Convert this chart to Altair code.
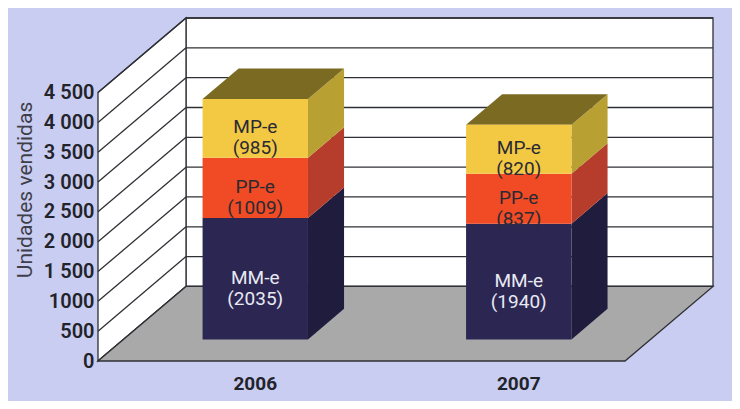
import altair as alt
import pandas as pd

# ---------------- data ----------------
years = ["2006", "2007"]
series = ["MM-e", "PP-e", "MP-e"]
mm_values = [2035, 1940]
pp_values = [1009, 837]
mp_values = [985, 820]
ytick_values = [0, 500, 1000, 1500, 2000, 2500, 3000, 3500, 4000, 4500]
ytick_labels = ["0", "500", "1000", "1 500", "2 000", "2 500", "3 000", "3 500", "4 000", "4 500"]
y_title = "Unidades vendidas"

# ---------------- styles / geometry ----------------
FRONT_COL = {"MM-e": "#2b2752", "PP-e": "#f04b24", "MP-e": "#f3c843"}
SIDE_COL = {"MM-e": "#1f1c3d", "PP-e": "#b63c2b", "MP-e": "#b9a032"}
TOP_COL = "#7b6a22"
LABEL_COL = {"MM-e": "#e9e9f4", "PP-e": "#2a2a35", "MP-e": "#2a2a35"}
BG = "#c9cdf1"
LINE = "#2f3035"
FLOOR = "#a9a9aa"
FONT = "Liberation Sans Narrow, Roboto, Liberation Sans, sans-serif"

W = 527.0          # front width of floor (x units)
DX = 88.0          # x shift for full depth
YMAX = max(ytick_values)
DY = 1250.0        # value shift for full depth
D0, D1 = 0.29, 0.70  # bar front / back depth
slot = W / len(years)
bar_w = 0.4 * slot

XDOM = [0, W + DX]
YDOM = [0, YMAX + DY]

xs = alt.Scale(domain=XDOM, nice=False, zero=False)
ys = alt.Scale(domain=YDOM, nice=False, zero=False)

label_expr = " : ".join(f"datum.value == {v} ? '{l}'" for v, l in zip(ytick_values, ytick_labels)) + " : ''"
yaxis = alt.Axis(
    values=ytick_values, labelExpr=label_expr, domain=False, ticks=False, grid=False,
    labelFont=FONT, labelFontSize=20, labelFontWeight=600, labelColor="#23232b", labelPadding=4,
    title=y_title, titleFont=FONT, titleFontSize=21, titleFontWeight="normal",
    titleColor="#3f3f4a", titlePadding=8)


def X(f):
    return alt.X(f, scale=xs, axis=None)


def Y(f):
    return alt.Y(f, scale=ys, axis=yaxis)


# ---------------- build tables ----------------
front_rows, side_rows, top_rows, label_rows, year_rows = [], [], [], [], []
values = {"MM-e": mm_values, "PP-e": pp_values, "MP-e": mp_values}
for i, yr in enumerate(years):
    c = (i + 0.5) * slot
    x0f = c - bar_w / 2 + D0 * DX
    x1f = c + bar_w / 2 + D0 * DX
    x0b = c - bar_w / 2 + D1 * DX
    x1b = c + bar_w / 2 + D1 * DX
    base = 0.0
    for s in series:
        v = values[s][i]
        top = base + v
        fid = f"{yr}-{s}"
        front_rows.append(dict(id=fid, s=s, x=x0f, x2=x1f, y=base + D0 * DY, y2=top + D0 * DY))
        side_rows.append(dict(id=fid, s=s, x=x1f, y=top + D0 * DY, y2=base + D0 * DY))
        side_rows.append(dict(id=fid, s=s, x=x1b, y=top + D1 * DY, y2=base + D1 * DY))
        label_rows.append(dict(s=s, x=c + D0 * DX, y=(base + top) / 2 + D0 * DY,
                               t=[s, f"({v})"]))
        base = top
    T0, T1 = base + D0 * DY, base + D1 * DY
    for xx, up, lo in [(x0f, T0, T0), (x0b, T1, T0), (x1f, T1, T0), (x1b, T1, T1)]:
        top_rows.append(dict(id=yr, x=xx, y=up, y2=lo))
    year_rows.append(dict(x=c + D0 * DX, y=0, t=yr))

front_df = pd.DataFrame(front_rows)
side_df = pd.DataFrame(side_rows)
top_df = pd.DataFrame(top_rows)
label_df = pd.DataFrame(label_rows)
year_df = pd.DataFrame(year_rows)

# back wall
back_df = pd.DataFrame([dict(x=DX, x2=W + DX, y=DY, y2=YMAX + DY)])
back = alt.Chart(back_df).mark_rect(fill="white", stroke=LINE, strokeWidth=1.3).encode(
    x=X("x:Q"), x2="x2:Q", y=Y("y:Q"), y2="y2:Q")

grid_df = pd.DataFrame([dict(v=v, x=DX, x2=W + DX, xl=0, yb=v + DY) for v in ytick_values])
back_grid = alt.Chart(grid_df).mark_rule(color=LINE, strokeWidth=1.3).encode(
    x=X("x:Q"), x2="x2:Q", y=Y("yb:Q"))

# left wall
left_df = pd.DataFrame([dict(x=0, y=YMAX, y2=0), dict(x=DX, y=YMAX + DY, y2=DY)])
left = alt.Chart(left_df).mark_area(fill="white", stroke=LINE, strokeWidth=1.3, opacity=1).encode(
    x=X("x:Q"), y=Y("y:Q"), y2="y2:Q")
left_grid = alt.Chart(grid_df).mark_rule(color=LINE, strokeWidth=1.3).encode(
    x=X("xl:Q"), x2="x:Q", y=Y("v:Q"), y2="yb:Q")

# floor
floor_df = pd.DataFrame([dict(x=0, y=0, y2=0), dict(x=DX, y=DY, y2=0),
                         dict(x=W, y=DY, y2=0), dict(x=W + DX, y=DY, y2=DY)])
floor = alt.Chart(floor_df).mark_area(fill=FLOOR, stroke=LINE, strokeWidth=1.3, opacity=1).encode(
    x=X("x:Q"), y=Y("y:Q"), y2="y2:Q")

front_scale = alt.Scale(domain=series, range=[FRONT_COL[s] for s in series])
side_scale = alt.Scale(domain=series, range=[SIDE_COL[s] for s in series])
label_scale = alt.Scale(domain=series, range=[LABEL_COL[s] for s in series])

sides = alt.Chart(side_df).mark_area(opacity=1).encode(
    x=X("x:Q"), y=Y("y:Q"), y2="y2:Q",
    color=alt.Color("s:N", scale=side_scale, legend=None),
    detail="id:N")

tops = alt.Chart(top_df).mark_area(opacity=1, color=TOP_COL).encode(
    x=X("x:Q"), y=Y("y:Q"), y2="y2:Q", detail="id:N")

fronts = alt.Chart(front_df).mark_rect().encode(
    x=X("x:Q"), x2="x2:Q", y=Y("y:Q"), y2="y2:Q",
    fill=alt.Fill("s:N", scale=front_scale, legend=None))

labels = alt.Chart(label_df).mark_text(font=FONT, fontSize=19, lineHeight=21,
                                        align="center", baseline="middle", dy=-1).encode(
    x=X("x:Q"), y=Y("y:Q"), text="t",
    color=alt.Color("s:N", scale=label_scale, legend=None))

year_labels = alt.Chart(year_df).mark_text(font=FONT, fontSize=19, fontWeight="bold",
                                            color="#23232b", dy=23, baseline="middle").encode(
    x=X("x:Q"), y=Y("y:Q"), text="t:N")

chart = alt.layer(back, back_grid, left, left_grid, floor, sides, tops, fronts, labels, year_labels).resolve_scale(
    color="independent", fill="independent"
).properties(
    width=W + DX, height=343,
    autosize=alt.AutoSizeParams(type="none"),
    padding={"left": 90, "top": 10, "right": 19, "bottom": 40},
    background=BG,
).configure_view(stroke=None)

chart.save("out.html", embed_options={"renderer": "svg", "actions": False})
